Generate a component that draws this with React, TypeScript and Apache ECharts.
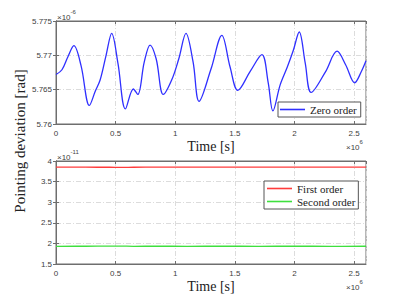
import React, { useEffect, useRef } from "react";
import * as echarts from "echarts";

// Time in units of 1e6 s
const zeroTime = [0, 0.05, 0.1, 0.15, 0.21, 0.28, 0.33, 0.37, 0.42, 0.467, 0.52, 0.582, 0.649, 0.686, 0.74, 0.789, 0.84, 0.9, 0.97, 1.03, 1.09, 1.15, 1.2, 1.3, 1.391, 1.46, 1.525, 1.63, 1.727, 1.78, 1.819, 1.88, 1.94, 1.99, 2.04, 2.09, 2.14, 2.26, 2.357, 2.43, 2.505, 2.56, 2.6];
// Zero-order pointing deviation, in units of 1e-6 rad
const zeroValues = [5.7672, 5.7679, 5.7698, 5.7714, 5.7685, 5.7627, 5.7648, 5.7664, 5.77, 5.7732, 5.7688, 5.7622, 5.7651, 5.7643, 5.769, 5.7715, 5.7695, 5.7643, 5.7664, 5.7695, 5.7732, 5.769, 5.7633, 5.768, 5.7729, 5.7683, 5.7649, 5.7677, 5.7701, 5.766, 5.7619, 5.7657, 5.7683, 5.7707, 5.7734, 5.7689, 5.7646, 5.7676, 5.7706, 5.7686, 5.766, 5.7676, 5.7692];

// Time in units of 1e6 s
const orderTime = [0, 0.25, 0.45, 0.55, 0.65, 0.85, 1.1, 1.4, 1.7, 2.0, 2.3, 2.6];
// First/second-order pointing deviation, in units of 1e-11 rad
const firstValues = [3.85, 3.849, 3.848, 3.843, 3.848, 3.85, 3.849, 3.85, 3.849, 3.85, 3.849, 3.85];
const secondValues = [1.93, 1.931, 1.934, 1.933, 1.93, 1.931, 1.93, 1.931, 1.93, 1.931, 1.93, 1.931];

const xTicks = { min: 0, max: 2.6, interval: 0.5 };
const topY = { min: 5.76, max: 5.775, interval: 0.005 };
const bottomY = { min: 1.5, max: 4, interval: 0.5 };

const BLUE = "#2f2fff";
const RED = "#ff3b3b";
const GREEN = "#3ee03e";
const FRAME = "#6e6e6e";
const LABEL = "#404040";
const SERIF = "'Liberation Serif', 'Times New Roman', serif";
const SANS = "'Liberation Sans', Arial, sans-serif";

const pairs = (xs: number[], ys: number[]) => xs.map((x, i) => [x, ys[i]]);

const expo = (x: number, y: number, e: string) => ({
  type: "text", x, y,
  style: {
    text: `{a|×10}{b|${e}}`,
    rich: {
      a: { fontSize: 8, fontFamily: SANS, fill: LABEL, lineHeight: 12, verticalAlign: "bottom" },
      b: { fontSize: 6, fontFamily: SANS, fill: LABEL, lineHeight: 12, verticalAlign: "top", padding: [0, 0, 5, 0] },
    },
  },
});

export default function App() {
  const ref = useRef<HTMLDivElement>(null);
  useEffect(() => {
    if (!ref.current) return;
    const chart = echarts.init(ref.current, null, { renderer: "svg" });
    const splitLine = { show: true, lineStyle: { color: "#dcdcdc", width: 1, type: [5, 2, 1, 2] } };
    const tick = { show: true, inside: true, length: 3, lineStyle: { color: FRAME } };
    const axisLine = { show: true, lineStyle: { color: FRAME, width: 1 } };
    const lbl = { color: LABEL, fontSize: 8, fontFamily: SANS };
    const xMain = (gi: number) => ({
      type: "value", gridIndex: gi, ...xTicks, position: "bottom",
      axisLine, axisTick: tick, splitLine,
      axisLabel: { ...lbl, margin: 5, showMaxLabel: false, formatter: (v: number) => (v > 2.55 ? "" : String(v)) },
      name: "Time [s]", nameLocation: "middle", nameGap: 15,
      nameTextStyle: { fontFamily: SERIF, fontSize: 14, color: "#222" },
    });
    const xMirror = (gi: number) => ({
      type: "value", gridIndex: gi, ...xTicks, position: "top",
      axisLine, axisTick: tick, splitLine: { show: false }, axisLabel: { show: false },
    });
    const yMain = (gi: number, r: any) => ({
      type: "value", gridIndex: gi, ...r, position: "left",
      axisLine, axisTick: tick, splitLine,
      axisLabel: { ...lbl, margin: 4, formatter: (v: number) => String(+v.toFixed(4)) },
    });
    const yMirror = (gi: number, r: any) => ({
      type: "value", gridIndex: gi, ...r, position: "right",
      axisLine, axisTick: tick, splitLine: { show: false }, axisLabel: { show: false },
    });
    const legendBase = {
      backgroundColor: "#fff", borderColor: "#555", borderWidth: 1, borderRadius: 0,
      icon: "rect", itemWidth: 25, itemHeight: 1.6, itemGap: 0,
      textStyle: { fontFamily: SERIF, fontSize: 11, color: "#222", lineHeight: 13 },
    };
    chart.setOption({
      animation: false,
      grid: [
        { left: 56, top: 21, width: 310, height: 103, show: true, borderColor: FRAME, borderWidth: 1 },
        { left: 56, top: 161, width: 310, height: 103, show: true, borderColor: FRAME, borderWidth: 1 },
      ],
      xAxis: [xMain(0), xMain(1), xMirror(0), xMirror(1)],
      yAxis: [yMain(0, topY), yMain(1, bottomY), yMirror(0, topY), yMirror(1, bottomY)],
      legend: [
        { ...legendBase, data: ["Zero order"], left: 278, top: 102, padding: [1, 4, 1, 2] },
        { ...legendBase, data: ["First order", "Second order"], orient: "vertical", left: 264, top: 181, padding: [1, 3, 1, 3] },
      ],
      series: [
        { name: "Zero order", type: "line", xAxisIndex: 0, yAxisIndex: 0, data: pairs(zeroTime, zeroValues), smooth: 0.35, showSymbol: false, lineStyle: { color: BLUE, width: 1.3 }, itemStyle: { color: BLUE } },
        { name: "First order", type: "line", xAxisIndex: 1, yAxisIndex: 1, data: pairs(orderTime, firstValues), smooth: 0.4, showSymbol: false, lineStyle: { color: RED, width: 1.3 }, itemStyle: { color: RED } },
        { name: "Second order", type: "line", xAxisIndex: 1, yAxisIndex: 1, data: pairs(orderTime, secondValues), smooth: 0.4, showSymbol: false, lineStyle: { color: GREEN, width: 1.3 }, itemStyle: { color: GREEN } },
      ],
      graphic: [
        { type: "text", x: 20, y: 141, rotation: Math.PI / 2, style: { text: "Pointing deviation [rad]", font: `15px ${SERIF}`, fill: "#222", align: "center", verticalAlign: "middle" } },
        expo(57, 9, "-6"),
        expo(57, 149, "-11"),
        expo(346, 139, "6"),
        expo(346, 279, "6"),
      ],
    });
    return () => chart.dispose();
  }, []);
  return <div ref={ref} style={{ width: 399, height: 303, position: "absolute", left: 0, top: 0, background: "#fff" }} />;
}
